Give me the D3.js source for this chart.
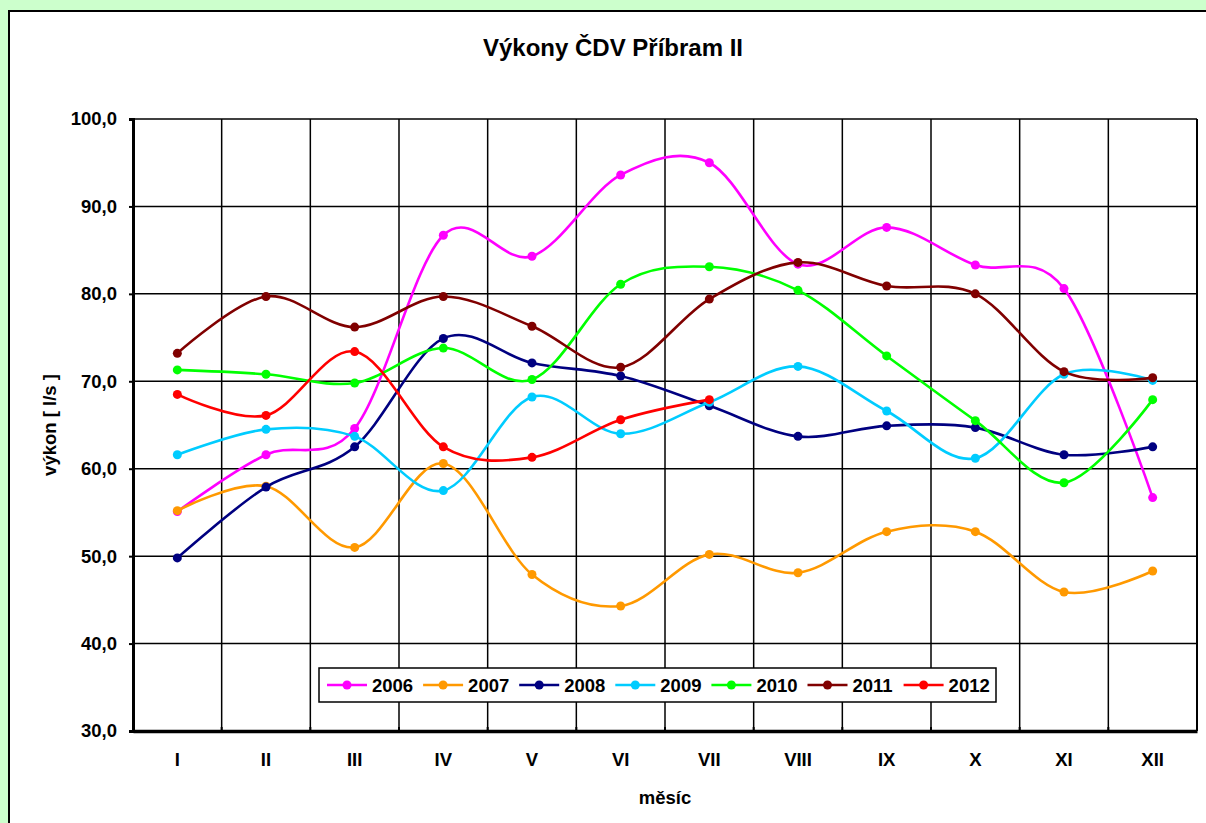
<!DOCTYPE html>
<html>
<head>
<meta charset="utf-8">
<script src="https://cdn.jsdelivr.net/npm/d3@7"></script>
<style>
  html, body { margin: 0; padding: 0; background: #ccffcc; overflow: hidden; }
  svg { display: block; font-family: "Liberation Sans", Arial, sans-serif; font-weight: bold; }
</style>
</head>
<body>
<svg id="chart" width="1206" height="823"></svg>
<script>
// months on the x axis
var months = ['I', 'II', 'III', 'IV', 'V', 'VI', 'VII', 'VIII', 'IX', 'X', 'XI', 'XII']
var yTicks = [30, 40, 50, 60, 70, 80, 90, 100]

// values, l/s
var v2006 = [55.1, 61.6, 64.6, 86.7, 84.3, 93.6, 95.0, 83.4, 87.6, 83.3, 80.6, 56.7]
var v2007 = [55.2, 58.0, 51.0, 60.6, 47.9, 44.3, 50.2, 48.1, 52.8, 52.8, 45.9, 48.3]
var v2008 = [49.8, 57.9, 62.5, 74.9, 72.1, 70.6, 67.2, 63.7, 64.9, 64.7, 61.6, 62.5]
var v2009 = [61.6, 64.5, 63.7, 57.5, 68.2, 64.0, 67.6, 71.7, 66.6, 61.2, 70.8, 70.1]
var v2010 = [71.3, 70.8, 69.8, 73.8, 70.2, 81.1, 83.1, 80.4, 72.9, 65.5, 58.4, 67.9]
var v2011 = [73.2, 79.7, 76.2, 79.7, 76.3, 71.6, 79.4, 83.6, 80.9, 80.0, 71.1, 70.4]
var v2012 = [68.5, 66.1, 73.4, 62.5, 61.3, 65.6, 67.9, null, null, null, null, null]

var years = ['2006', '2007', '2008', '2009', '2010', '2011', '2012']
var colors = ['#ff00ff', '#ff9900', '#000080', '#00ccff', '#00ff00', '#800000', '#ff0000']

var series = years.map((y, i) => ({
  name: y,
  color: colors[i],
  values: [v2006, v2007, v2008, v2009, v2010, v2011, v2012][i],
}))

var svg = d3.select('#chart')

// chart area (white box running off the right and bottom edge)
svg.append('rect')
  .attr('x', 9).attr('y', 11)
  .attr('width', 1220).attr('height', 830)
  .attr('fill', '#fff')
  .attr('stroke', '#000')
  .attr('stroke-width', 2)

var plot = { left: 133, right: 1197, top: 119, bottom: 731 }

var x = d3.scaleBand().domain(months).range([plot.left, plot.right])
var y = d3.scaleLinear().domain([30, 100]).range([plot.bottom, plot.top])
var cx = (m) => x(m) + x.bandwidth() / 2

// horizontal grid
svg.append('g')
  .selectAll('line')
  .data(yTicks.slice(1))
  .enter()
  .append('line')
  .attr('x1', plot.left).attr('x2', plot.right)
  .attr('y1', (d) => y(d)).attr('y2', (d) => y(d))
  .attr('stroke', '#000')
  .attr('stroke-width', 1.5)

// vertical grid at category borders
svg.append('g')
  .selectAll('line')
  .data(months.slice(1))
  .enter()
  .append('line')
  .attr('x1', (d) => x(d)).attr('x2', (d) => x(d))
  .attr('y1', plot.top).attr('y2', plot.bottom)
  .attr('stroke', '#000')
  .attr('stroke-width', 1.5)

// right frame
svg.append('line')
  .attr('x1', plot.right).attr('x2', plot.right)
  .attr('y1', plot.top).attr('y2', plot.bottom)
  .attr('stroke', '#000').attr('stroke-width', 2)

// y axis
var yAxis = d3.axisLeft(y)
  .tickValues(yTicks)
  .tickSize(4)
  .tickPadding(12)
  .tickFormat((d) => d3.format('.1f')(d).replace('.', ','))

var gy = svg.append('g')
  .attr('transform', `translate(${plot.left},0)`)
  .call(yAxis)
gy.select('.domain').attr('stroke-width', 3)
gy.selectAll('.tick line').attr('stroke-width', 2)
gy.selectAll('.tick text')
  .attr('font-size', 18.5)
  .attr('font-weight', 'bold')
  .attr('font-family', '"Liberation Sans", Arial, sans-serif')
  .attr('fill', '#000')

// x axis
var xAxis = d3.axisBottom(x).tickSize(0).tickPadding(22)
var gx = svg.append('g')
  .attr('transform', `translate(0,${plot.bottom})`)
  .call(xAxis)
gx.select('.domain').attr('stroke-width', 3.5)
gx.selectAll('.tick text')
  .attr('font-size', 18.5)
  .attr('font-weight', 'bold')
  .attr('font-family', '"Liberation Sans", Arial, sans-serif')
  .attr('fill', '#000')

// small ticks on the category borders
svg.append('g')
  .selectAll('line')
  .data(months.slice(1).concat(['end']))
  .enter()
  .append('line')
  .attr('x1', (d) => (d == 'end' ? plot.right : x(d)))
  .attr('x2', (d) => (d == 'end' ? plot.right : x(d)))
  .attr('y1', plot.bottom).attr('y2', plot.bottom - 4)
  .attr('stroke', '#000').attr('stroke-width', 2)

// titles
svg.append('text')
  .attr('x', 613).attr('y', 56)
  .attr('text-anchor', 'middle')
  .attr('font-size', 24)
  .text('Výkony ČDV Příbram II')

svg.append('text')
  .attr('transform', 'translate(56,425) rotate(-90)')
  .attr('text-anchor', 'middle')
  .attr('font-size', 18.5)
  .text('výkon [ l/s ]')

svg.append('text')
  .attr('x', 665).attr('y', 804)
  .attr('text-anchor', 'middle')
  .attr('font-size', 18.5)
  .text('měsíc')

// series lines, smoothed like the spreadsheet
var line = d3.line()
  .defined((d) => d.v != null)
  .x((d) => cx(d.m))
  .y((d) => y(d.v))
  .curve(d3.curveCardinal.tension(0))

var gs = svg.append('g')
  .selectAll('g')
  .data(series)
  .enter()
  .append('g')

gs.append('path')
  .attr('fill', 'none')
  .attr('stroke', (d) => d.color)
  .attr('stroke-width', 2.6)
  .attr('stroke-linejoin', 'round')
  .attr('d', (d) => line(d.values.map((v, i) => ({ m: months[i], v: v }))))

gs.selectAll('circle')
  .data((d) => d.values.map((v, i) => ({ m: months[i], v: v, color: d.color })).filter((p) => p.v != null))
  .enter()
  .append('circle')
  .attr('cx', (d) => cx(d.m))
  .attr('cy', (d) => y(d.v))
  .attr('r', 4.5)
  .attr('fill', (d) => d.color)

// legend
var legend = svg.append('g')
legend.append('rect')
  .attr('x', 319).attr('y', 668)
  .attr('width', 677).attr('height', 34)
  .attr('fill', '#fff')
  .attr('stroke', '#000')
  .attr('stroke-width', 1.5)

var item = legend.selectAll('g.item')
  .data(series)
  .enter()
  .append('g')
  .attr('class', 'item')
  .attr('transform', (d, i) => `translate(${327 + i * 96.1},685)`)

item.append('line')
  .attr('x1', 0).attr('x2', 40)
  .attr('stroke', (d) => d.color)
  .attr('stroke-width', 2.6)
item.append('circle')
  .attr('cx', 20).attr('r', 4.5)
  .attr('fill', (d) => d.color)
item.append('text')
  .attr('x', 45).attr('y', 7)
  .attr('font-size', 18.5)
  .text((d) => d.name)
</script>
</body>
</html>
